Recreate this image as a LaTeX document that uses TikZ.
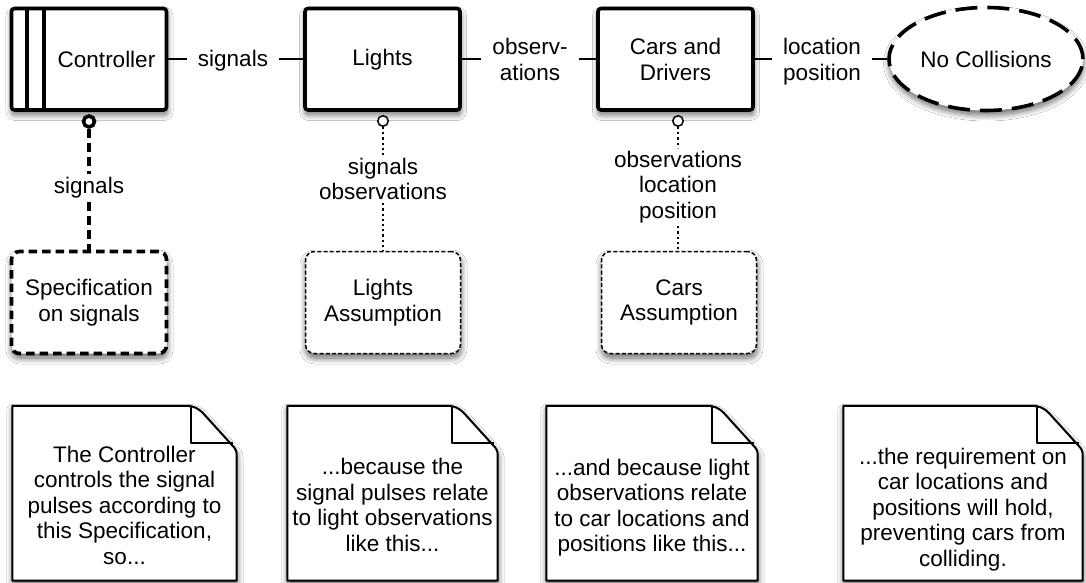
\documentclass[tikz,border=0pt]{standalone}
\usepackage{fontspec}
\setmainfont{Liberation Sans}
\usetikzlibrary{shapes.geometric,shadows.blur,calc}

% outline of a note sheet with a folded top-right corner, drawn round a named frame node
\newcommand\foldnote[1]{%
  \draw[noteline] (#1.south west) -- (#1.north west) -- ($(#1.north east)+(-50,0)$)
    .. controls ($(#1.north east)+(-43,0)$) and ($(#1.north east)+(-38,3)$) .. ($(#1.north east)+(-34,7)$)
    -- ($(#1.north east)+(-5,39)$)
    .. controls ($(#1.north east)+(-1,43)$) and ($(#1.north east)+(0,45)$) .. ($(#1.north east)+(0,50)$)
    -- (#1.south east) -- cycle;
  \draw[line width=1.8pt, line join=round]
    ($(#1.north east)+(-46,1.5)$) -- ($(#1.north east)+(-46,37)$) -- ($(#1.north east)+(-4,37)$);
}

\begin{document}
\begin{tikzpicture}[x=1pt, y=-1pt,
  every node/.style={font=\fontsize{22.5}{25.5}\selectfont, align=center},
  soft/.style={blur shadow={shadow xshift=0.5pt, shadow yshift=-4.5pt, shadow blur radius=6pt,
      shadow blur steps=12, shadow opacity=60}},
  pdbox/.style={draw, line width=3.6pt, rounded corners=3pt, fill=white,
      minimum width=155pt, minimum height=101.5pt, inner sep=0pt, soft},
  specbox/.style={draw, line width=3.6pt, dash pattern=on 8.5pt off 5pt, rounded corners=8pt,
      fill=white, minimum width=155pt, minimum height=102pt, inner sep=0pt, soft},
  assume/.style={draw, line width=1.5pt, dash pattern=on 4pt off 2.2pt, rounded corners=9pt,
      fill=white, minimum width=155pt, minimum height=102pt, inner sep=0pt, soft},
  goalshape/.style={draw, ellipse, line width=3.6pt, dash pattern=on 22pt off 10pt, fill=white,
      minimum width=194pt, minimum height=103pt, inner sep=0pt, soft},
  plug/.style={draw, circle, fill=white, minimum size=10.5pt, inner sep=0pt},
  link/.style={line width=1.8pt},
  thickdash/.style={line width=4pt, dash pattern=on 9pt off 5pt},
  thindot/.style={line width=1.6pt, dash pattern=on 2.2pt off 3pt},
  lbl/.style={inner xsep=11pt, inner ysep=3pt},
  notebody/.style={inner sep=0pt, minimum height=174.5pt},
  noteline/.style={line width=2pt, fill=white, line join=round, soft}
]
\fill[white] (0,0) rectangle (1086,583);
\useasboundingbox (0,0) rectangle (1086,583);

% problem domains and the requirement
\node[pdbox] (ctrl) at (89,59.25) {\hspace*{35pt}Controller};
\draw[line width=3.6pt] ($(ctrl.north west)+(17.5,0)$) -- ($(ctrl.south west)+(17.5,0)$);
\draw[line width=4.5pt] ($(ctrl.north west)+(34.5,0)$) -- ($(ctrl.south west)+(34.5,0)$);
\node[pdbox] (lights) at (382.5,59.25) {Lights};
\node[pdbox] (cars) at (675.5,59.25) {Cars and\\Drivers};
\node[goalshape] (goal) at (986,59) {No Collisions};

% shared phenomena between neighbours
\node[lbl] (sig) at (233,60.8) {signals};
\node[lbl] (obs) at (530,59.3) {observ-\\ations};
\node[lbl] (loc) at (822,61.6) {location\\position};
\draw[link] (ctrl.east) -- (sig.west |- ctrl.east);
\draw[link] (sig.east |- lights.west) -- (lights.west);
\draw[link] (lights.east) -- (obs.west |- lights.east);
\draw[link] (obs.east |- cars.west) -- (cars.west);
\draw[link] (cars.east) -- (loc.west |- cars.east);
\draw[link] (loc.east |- goal.west) -- (goal.west);

% specification and assumptions
\node[specbox] (spec) at (89,302.5) {Specification\\on signals};
\node[assume] (lass) at (383,302.5) {Lights\\Assumption};
\node[assume] (cass) at (679,302.5) {Cars\\Assumption};

\node[plug, line width=3.6pt, minimum size=11pt] (c1) at (89,121.5) {};
\node[plug, line width=1.5pt] (c2) at (383,121) {};
\node[plug, line width=1.5pt] (c3) at (678,121) {};

\node[lbl] (l1) at (89,188) {signals};
\node[lbl] (l2) at (383,179) {signals\\observations};
\node[lbl] (l3) at (678,187) {observations\\location\\position};

\draw[thickdash] (c1.south) -- (l1.north);
\draw[thickdash] (l1.south) -- (spec.north);
\draw[thindot] (c2.south) -- (l2.north);
\draw[thindot] (l2.south) -- (lass.north);
\draw[thindot] (c3.south) -- (l3.north);
\draw[thindot] (l3.south) -- (l3.south |- cass.north);

% explanatory notes
\node[notebody, minimum width=224pt] (note1) at (124.5,493.25) {};
\node[notebody, minimum width=210pt] (note2) at (392.5,493.25) {};
\node[notebody, minimum width=211pt] (note3) at (652,493.25) {};
\node[notebody, minimum width=239pt] (note4) at (963,493.25) {};
\foldnote{note1}
\foldnote{note2}
\foldnote{note3}
\foldnote{note4}
\node (t1) at (124.5,505) {The Controller\\controls the signal\\pulses according to\\this Specification,\\so...};
\node (t2) at (392.5,505) {...because the\\signal pulses relate\\to light observations\\like this...};
\node (t3) at (652,507.5) {...and because light\\observations relate\\to car locations and\\positions like this...};
\node (t4) at (963,509.5) {...the requirement on\\car locations and\\positions will hold,\\preventing cars from\\colliding.};
\end{tikzpicture}
\end{document}
